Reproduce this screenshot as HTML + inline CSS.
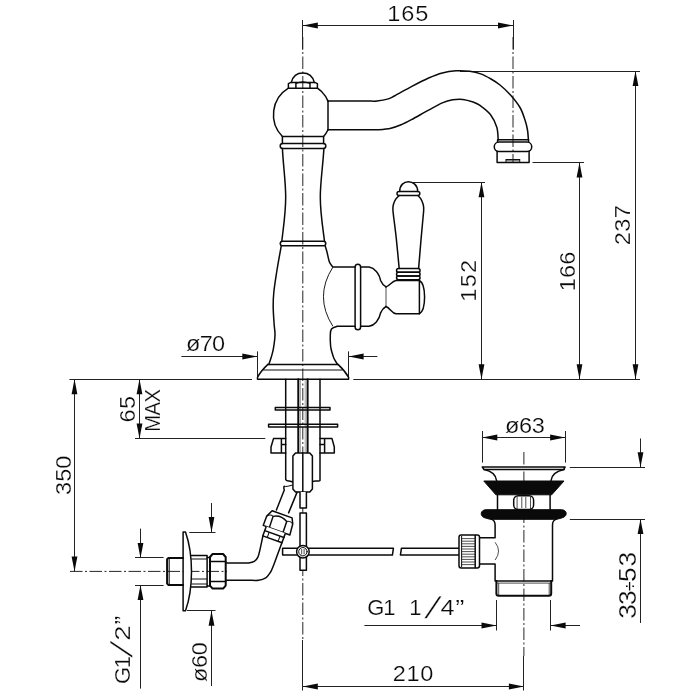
<!DOCTYPE html>
<html lang="en"><head><meta charset="utf-8"><title>Faucet technical drawing</title>
<style>
html,body{margin:0;padding:0;background:#fff;}
svg{display:block}
.k{fill:none;stroke:#0a0a0a;stroke-width:1.5;stroke-linecap:round;stroke-linejoin:round}
.kk{fill:none;stroke:#0a0a0a;stroke-width:2;stroke-linecap:round;stroke-linejoin:round}
.kw{fill:#fff;stroke:#0a0a0a;stroke-width:1.5;stroke-linejoin:round}
.n{fill:none;stroke:#222;stroke-width:0.8}
.n2{fill:none;stroke:#1a1a1a;stroke-width:1}
.k2{fill:none;stroke:#111;stroke-width:1.05}
.g{fill:none;stroke:#8a8a8a;stroke-width:0.8}
.t{fill:none;stroke:#222;stroke-width:1}
.c{fill:none;stroke:#1a1a1a;stroke-width:0.95;stroke-dasharray:12.5 2.5 2 2.5}
.a{fill:#0a0a0a;stroke:none}
.b{fill:#0a0a0a;stroke:#0a0a0a;stroke-width:1}
.tx text{font-family:"Liberation Sans",sans-serif;fill:#0a0a0a;stroke:#fff;stroke-width:0.22px}
</style></head>
<body>
<svg width="700" height="700" viewBox="0 0 700 700">
<rect x="0" y="0" width="700" height="700" fill="#fff"/>
<g class="tx" opacity="0.999">
<text transform="translate(389,21) scale(1.07,1)" x="-1.67 11.45 24.58" y="0" font-size="22">165</text>
<text transform="translate(630,244) rotate(-90) scale(1.07,1)" x="-1.1 11.5 24.1" y="0" font-size="22">237</text>
<text transform="translate(575.1,289.4) rotate(-90) scale(1.07,1)" x="-1.67 10.73 23.13" y="0" font-size="22">166</text>
<text transform="translate(476,300) rotate(-90) scale(1.07,1)" x="-1.67 11.82 25.32" y="0" font-size="22">152</text>
<text transform="translate(186.6,351.4) scale(1.07,1)" x="-0.46 12.27 23.86" y="0" font-size="22">ø70</text>
<text transform="translate(70.6,494) rotate(-90) scale(1.07,1)" x="-0.84 11.37 23.58" y="0" font-size="22">350</text>
<text transform="translate(135,421.4) rotate(-90) scale(1.07,1)" x="-1.12 11.5" y="0" font-size="22">65</text>
<text transform="translate(160,430) rotate(-90) scale(0.92,1)" x="-1.8 15.81 29.92" y="0" font-size="22">MAX</text>
<text transform="translate(130,683) rotate(-90) scale(1.0,1)" x="-1.1 14.85" y="0" font-size="22">G1</text>
<text transform="translate(121.5,649.3) rotate(-90) skewX(-22) translate(-4.17,10.72)" x="0" y="0" font-size="30">/</text>
<text transform="translate(130,639.4) rotate(-90) scale(1.25,1)" x="-1.1" y="0" font-size="22">2</text>
<text transform="translate(130,623.6) rotate(-90) scale(1.2,1)" x="-0.81" y="0" font-size="22">”</text>
<text transform="translate(207,681.4) rotate(-90) scale(1.07,1)" x="-0.46 12.61 24.51" y="0" font-size="22">ø60</text>
<text transform="translate(505.4,433) scale(1.07,1)" x="-0.46 12.67 24.62" y="0" font-size="22">ø63</text>
<text transform="translate(368.4,614.6) scale(1.0,1)" x="-1.1 14.95" y="0" font-size="22">G1</text>
<text transform="translate(411,614.6) scale(1.0,1)" x="-1.67" y="0" font-size="22">1</text>
<text transform="translate(433,607.5) skewX(-22) translate(-4.17,10.72)" x="0" y="0" font-size="30">/</text>
<text transform="translate(441,614.6) scale(1.15,1)" x="-0.51" y="0" font-size="22">4</text>
<text transform="translate(456.3,614.6) scale(1.25,1)" x="-0.81" y="0" font-size="22">”</text>
<text transform="translate(394,681) scale(1.07,1)" x="-1.1 11.75 24.61" y="0" font-size="22">210</text>
<text transform="translate(636.2,617.8) rotate(-90) scale(1.12,1)" x="-0.89 11.54" y="0" font-size="23.5">33</text>
<text transform="translate(636.4,590.4) rotate(-90) scale(1.0,1)" x="-0.56" y="0" font-size="17.5" style="stroke:none">÷</text>
<text transform="translate(636.2,580.9) rotate(-90) scale(1.12,1)" x="-0.94 12.97" y="0" font-size="23.5">53</text>
</g>
<line class="c" x1="302.8" y1="37" x2="302.8" y2="640"/>
<line class="c" x1="513" y1="37" x2="513" y2="162"/>
<line class="c" x1="70" y1="571.4" x2="227" y2="571.4"/>
<line class="c" x1="523.9" y1="452" x2="523.9" y2="656"/>
<line class="t" x1="302.8" y1="25.5" x2="513" y2="25.5"/>
<polygon class="a" points="302.8,25.5 317.8,22.6 317.8,28.4"/>
<polygon class="a" points="513,25.5 498,22.6 498,28.4"/>
<line class="t" x1="302.5" y1="20" x2="302.5" y2="49.5"/>
<line class="t" x1="513.5" y1="20" x2="513.5" y2="49.5"/>
<line class="t" x1="460" y1="71.5" x2="640" y2="71.5"/>
<line class="t" x1="635.5" y1="71" x2="635.5" y2="379.3"/>
<polygon class="a" points="635.5,71 632.6,86 638.4,86"/>
<polygon class="a" points="635.5,379.3 632.6,364.3 638.4,364.3"/>
<line class="t" x1="532.5" y1="162.5" x2="584" y2="162.5"/>
<line class="t" x1="579.5" y1="162.5" x2="579.5" y2="379.3"/>
<polygon class="a" points="579.5,162.5 576.6,177.5 582.4,177.5"/>
<polygon class="a" points="579.5,379.3 576.6,364.3 582.4,364.3"/>
<line class="t" x1="412.6" y1="182.5" x2="485" y2="182.5"/>
<line class="t" x1="481.5" y1="182.3" x2="481.5" y2="379.3"/>
<polygon class="a" points="481.5,182.3 478.6,197.3 484.4,197.3"/>
<polygon class="a" points="481.5,379.3 478.6,364.3 484.4,364.3"/>
<line class="t" x1="69.4" y1="379.5" x2="252" y2="379.5"/>
<line class="t" x1="353.3" y1="379.5" x2="640" y2="379.5"/>
<line class="t" x1="181.4" y1="356.5" x2="257.3" y2="356.5"/>
<polygon class="a" points="257.3,356.5 242.3,353.6 242.3,359.4"/>
<line class="t" x1="257.5" y1="351.4" x2="257.5" y2="377.4"/>
<line class="t" x1="348.6" y1="356.5" x2="377.4" y2="356.5"/>
<polygon class="a" points="348.6,356.5 363.6,353.6 363.6,359.4"/>
<line class="t" x1="348.5" y1="351.4" x2="348.5" y2="377.4"/>
<line class="t" x1="74.5" y1="379.3" x2="74.5" y2="571.4"/>
<polygon class="a" points="74.5,379.3 71.6,394.3 77.4,394.3"/>
<polygon class="a" points="74.5,571.4 71.6,556.4 77.4,556.4"/>
<line class="t" x1="139.5" y1="379.3" x2="139.5" y2="438.6"/>
<polygon class="a" points="139.5,379.3 136.6,394.3 142.4,394.3"/>
<polygon class="a" points="139.5,438.6 136.6,423.6 142.4,423.6"/>
<line class="t" x1="135" y1="438.5" x2="265.3" y2="438.5"/>
<line class="t" x1="135" y1="557.5" x2="163.6" y2="557.5"/>
<line class="t" x1="135" y1="585.5" x2="163.6" y2="585.5"/>
<line class="t" x1="140.5" y1="528.6" x2="140.5" y2="557.9"/>
<polygon class="a" points="140.5,557.9 137.6,542.9 143.4,542.9"/>
<line class="t" x1="140.5" y1="585" x2="140.5" y2="688.6"/>
<polygon class="a" points="140.5,585 137.6,600 143.4,600"/>
<line class="t" x1="189.3" y1="532.5" x2="215.5" y2="532.5"/>
<line class="t" x1="187" y1="610.5" x2="215.5" y2="610.5"/>
<line class="t" x1="211.5" y1="503" x2="211.5" y2="532.1"/>
<polygon class="a" points="211.5,532.1 208.6,517.1 214.4,517.1"/>
<line class="t" x1="211.5" y1="610.7" x2="211.5" y2="686"/>
<polygon class="a" points="211.5,610.7 208.6,625.7 214.4,625.7"/>
<line class="t" x1="482.5" y1="431" x2="482.5" y2="462.6"/>
<line class="t" x1="565.5" y1="431" x2="565.5" y2="462.6"/>
<line class="t" x1="482.3" y1="437.5" x2="565.1" y2="437.5"/>
<polygon class="a" points="482.3,437.5 497.3,434.6 497.3,440.4"/>
<polygon class="a" points="565.1,437.5 550.1,434.6 550.1,440.4"/>
<line class="t" x1="569.8" y1="467.5" x2="645" y2="467.5"/>
<line class="t" x1="569.8" y1="519.5" x2="645" y2="519.5"/>
<line class="t" x1="640.5" y1="438.5" x2="640.5" y2="467.3"/>
<polygon class="a" points="640.5,467.3 637.6,452.3 643.4,452.3"/>
<line class="t" x1="640.5" y1="519.1" x2="640.5" y2="623"/>
<polygon class="a" points="640.5,519.1 637.6,534.1 643.4,534.1"/>
<line class="t" x1="364.4" y1="625.5" x2="496.5" y2="625.5"/>
<polygon class="a" points="496.5,625.5 481.5,622.6 481.5,628.4"/>
<line class="t" x1="550.6" y1="625.5" x2="580" y2="625.5"/>
<polygon class="a" points="550.6,625.5 565.6,622.6 565.6,628.4"/>
<line class="t" x1="496.5" y1="600" x2="496.5" y2="630.5"/>
<line class="t" x1="550.5" y1="600" x2="550.5" y2="630.5"/>
<line class="t" x1="302.8" y1="686.5" x2="523.9" y2="686.5"/>
<polygon class="a" points="302.8,686.5 317.8,683.6 317.8,689.4"/>
<polygon class="a" points="523.9,686.5 508.9,683.6 508.9,689.4"/>
<line class="t" x1="302.5" y1="640" x2="302.5" y2="690.5"/>
<line class="t" x1="523.5" y1="656" x2="523.5" y2="690.5"/>
<path class="k" d="M291.3,82.4 C292.8,76.5 297,73 302.7,73 C308.4,73 312.8,76.5 314.3,82.4"/>
<path class="k2" d="M295.9,83.4 Q302.8,80.3 310,83.4"/>
<path class="k" d="M288.4,88.2 V83.6 L290.9,82.4 H314.8 L317.4,83.6 V88.2 Z"/>
<line class="k" x1="295.9" y1="82.5" x2="295.9" y2="88.2"/>
<line class="k" x1="310" y1="82.5" x2="310" y2="88.2"/>
<path class="k" d="M288.4,88.2 A31,31 0 0 0 282.4,136.5"/>
<path class="k" d="M317.4,88.2 A29.5,29.5 0 0 1 328,101.1"/>
<path class="k" d="M328,129.7 A29.5,29.5 0 0 1 323.6,136.5"/>
<line class="k" x1="328" y1="101.1" x2="328" y2="129.7"/>
<path class="k" d="M282.4,136.5 H323.6 M282.4,136.5 V143.4 M323.6,136.5 V143.4"/>
<path class="k" d="M282.7,143.4 H323.3 a2.5,2.5 0 0 1 0,5 H282.7 a2.5,2.5 0 0 1 0,-5 Z"/>
<path class="k" d="M282.4,148.4 C283.2,165 285.7,182 285.7,197 C285.7,214 283,230 281.8,241.3"/>
<path class="k" d="M323.9,148.4 C323,165 320.3,182 320.3,197 C320.3,214 323.2,230 324.5,241.3"/>
<path class="k" d="M282.5,241.2 H323.5 a2.25,2.25 0 0 1 0,4.5 H282.5 a2.25,2.25 0 0 1 0,-4.5 Z"/>
<path class="k" d="M281.3,245.7 C280.58,249.75 278.25,262.2 277,270 C275.75,277.8 274.43,286.25 273.8,292.5 C273.17,298.75 273.13,302.08 273.2,307.5 C273.27,312.92 273.9,320.42 274.2,325 C274.5,329.58 275.13,331.07 275,335 C274.87,338.93 274.02,344.93 273.4,348.6 C272.78,352.27 272.07,354.37 271.3,357 C270.53,359.63 269.22,363.17 268.8,364.4"/>
<path class="k" d="M325.1,245.7 C325.42,246.75 326.28,249.28 327,252 C327.72,254.72 328.42,259.48 329.4,262 C330.38,264.52 332.32,266.25 332.9,267.1 H355.1"/>
<path class="k" d="M355.1,326.3 H337.1  C336.17,326.75 332.63,327.55 331.5,329 C330.37,330.45 330.45,332.17 330.3,335 C330.15,337.83 330.32,343.08 330.6,346 C330.88,348.92 331.43,350.42 332,352.5 C332.57,354.58 333.08,356.52 334,358.5 C334.92,360.48 336.92,363.42 337.5,364.4"/>
<path class="n2" d="M332.9,267.1 Q314,296.7 332.9,326.3"/>
<path class="k" d="M355.1,267 a2.75,2.75 0 0 1 5.5,0 V327 a2.75,2.75 0 0 1 -5.5,0 Z"/>
<path class="k" d="M360.6,267.1 H369 C374.5,268 379.3,273.5 380.6,280.5 Q382.5,285 386,286.9"/>
<path class="k" d="M360.6,326.3 H369 C374.5,325.4 379.3,319.9 380.6,312.9 Q382.5,308.4 386,306.5"/>
<line class="n" x1="386" y1="286.9" x2="386" y2="306.5"/>
<path class="k" d="M386,286.9 C390,285.5 392,281 396,280.5 H419.4 C426.3,284 426.3,310 419.4,313.8 H396 C392,313.3 390,308 386,306.5"/>
<line class="k" x1="419.4" y1="280.5" x2="419.4" y2="313.8"/>
<path class="k" d="M398.4,268.6 H418.2 a1.85,1.85 0 0 1 0,3.7 H398.4 a1.85,1.85 0 0 1 0,-3.7 Z"/>
<path class="k" d="M398.4,272.3 H418.2 a1.85,1.85 0 0 1 0,3.7 H398.4 a1.85,1.85 0 0 1 0,-3.7 Z"/>
<path class="k" d="M398.4,276 H418.2 a1.85,1.85 0 0 1 0,3.7 H398.4 a1.85,1.85 0 0 1 0,-3.7 Z"/>
<path class="k" d="M399.2,268.6 C398.72,263.6 397.2,247.03 396.3,238.6 C395.4,230.17 394.37,222.85 393.8,218 C393.23,213.15 392.97,211.75 392.9,209.5 C392.83,207.25 392.95,206.2 393.4,204.5 C393.85,202.8 394.63,200.78 395.6,199.3 C396.57,197.82 398.6,196.22 399.2,195.6"/>
<path class="k" d="M418.6,268.6 C419.02,263.6 420.37,247.03 421.1,238.6 C421.83,230.17 422.57,222.85 423,218 C423.43,213.15 423.67,211.75 423.7,209.5 C423.73,207.25 423.65,206.23 423.2,204.5 C422.75,202.77 421.85,200.58 421,199.1 C420.15,197.62 418.58,196.18 418.1,195.6"/>
<path class="k" d="M399,191.4 H417.8 a2,2 0 0 1 0,4 H399 a2,2 0 0 1 0,-4 Z"/>
<path class="k" d="M399.7,191.4 C399.7,185 404,181.7 408.4,181.7 C412.8,181.7 417.7,185 417.7,191.4"/>
<path class="k" d="M267.9,364.4 H338"/>
<path class="k2" d="M263.2,370 H342.7"/>
<path class="k" d="M267.9,364.4 C263,369 259.5,373.5 257.5,377.4 V379.3 H348.6 V377.4 C346.5,373.5 343,369 338,364.4"/>
<path class="k" d="M328,101.1 C333.33,101.1 352.83,101.1 360,101.1 C367.17,101.1 368.15,101.12 371,101.1 C373.85,101.08 374.37,101.33 377.1,101 C379.83,100.67 384.53,99.93 387.4,99.1 C390.27,98.27 390.3,98.08 394.3,96 C398.3,93.92 405.68,89.6 411.4,86.6 C417.12,83.6 423.45,80.28 428.6,78 C433.75,75.72 437.73,74.1 442.3,72.9 C446.87,71.7 451.43,71.07 456,70.8 C460.57,70.53 465.58,70.78 469.7,71.3 C473.82,71.82 477.15,72.62 480.7,73.9 C484.25,75.18 487.78,77.15 491,79 C494.22,80.85 496.75,82.33 500,85 C503.25,87.67 507.17,91.25 510.5,95 C513.83,98.75 517.58,103.33 520,107.5 C522.42,111.67 523.75,116.25 525,120 C526.25,123.75 526.93,126.7 527.5,130 C528.07,133.3 528.25,138.17 528.4,139.8"/>
<path class="k" d="M328,129.7 C333.33,129.7 352.67,129.7 360,129.7 C367.33,129.7 368.85,129.7 372,129.7 C375.15,129.7 375.75,129.95 378.9,129.7 C382.05,129.45 387.2,129.02 390.9,128.2 C394.6,127.38 397.68,126.22 401.1,124.8 C404.52,123.38 406.82,122.15 411.4,119.7 C415.98,117.25 423.45,112.9 428.6,110.1 C433.75,107.3 438.3,104.62 442.3,102.9 C446.3,101.18 449.17,100.38 452.6,99.8 C456.03,99.22 459.48,99.03 462.9,99.4 C466.32,99.77 470.25,101 473.1,102 C475.95,103 477.12,103.32 480,105.4 C482.88,107.48 487.6,110.85 490.4,114.5 C493.2,118.15 495.5,123.08 496.8,127.3 C498.1,131.52 497.97,137.72 498.2,139.8"/>
<path class="k" d="M497.6,139.8 H528.6 M497.6,139.8 V142.1 M528.6,139.8 V142.1"/>
<path class="k" d="M499,142.1 H527 a4.75,4.75 0 0 1 0,9.5 H499 a4.75,4.75 0 0 1 0,-9.5 Z"/>
<path class="k" d="M497.1,151.6 V162.4 H529.1 V151.6"/>
<path class="k2" d="M506,162.4 V159.4 H519.7 V162.4"/>
<line class="n" x1="506" y1="160.8" x2="519.7" y2="160.8"/>
<path class="k" d="M285.7,379.3 V479.3 C286,481.5 290,480.5 292.7,482"/>
<path class="k" d="M320,379.3 V480.5 C319.5,482 315,480 312.9,481.5"/>
<path class="kk" d="M298.3,379.3 V452.9 M307.6,379.3 V452.9"/>
<path class="g" d="M300.4,380 V452 M305.2,380 V452"/>
<rect class="k" x="275.3" y="407.6" width="54.7" height="2.5"/>
<rect class="k" x="268.6" y="424.3" width="69" height="2.8"/>
<path class="k" d="M285.7,438.6 H273.5 L271,447 V452.9 H285.7 M281.4,438.6 V452.9 M281.4,444.6 H285.7"/>
<path class="k" d="M320,438.6 H332 L334.3,447 V452.9 H320 M324.6,438.6 V452.9 M324.6,444.6 H320"/>
<path class="kw" d="M292.9,456 L295.5,452.9 H309.8 L312.4,456 V489 L309.8,492 H295.5 L292.9,489 Z"/>
<line class="k" x1="302.8" y1="452.9" x2="302.8" y2="492"/>
<path class="kw" d="M300,492 V507.9 H306.4 V492"/>
<path class="kw" d="M300,570.3 V513 H306.4 V570.3 Z"/>
<path class="kw" d="M282.6,548.3 H393.4 L392.4,555.1 H282.6 Z"/>
<path class="k" d="M459,548.3 H401.4 L400.4,555.1 H459"/>
<circle class="kw" cx="302.9" cy="551.7" r="6.3"/>
<circle class="k" cx="302.9" cy="551.7" r="4.2" style="stroke-width:1"/>
<path class="n" d="M301.7,549 V554.4 M304.1,549 V554.4"/>
<path class="k" d="M285,486.4 Q283,486 284.3,490 L276.4,510"/>
<path class="k2" d="M285.7,486.4 C288,486.5 290,485.5 292.7,485"/>
<path class="k" d="M297.1,492.1 L288.6,512.9"/>
<g transform="translate(282.1,514.3) rotate(19.8)">
<path class="kw" d="M-10.6,0 L-13.85,6.9 L-14,16.85 H14.3 L13.3,5.5 L10.6,0 Z"/>
<path class="k" d="M-7.5,16.85 L-7.8,5 Q-1,0.8 6.8,5.2 L7,16.85"/>
<path class="k2" d="M-13.85,6.9 Q-11,3.5 -7.8,5 M6.8,5.2 Q10,3.2 13.3,5.5"/>
<path class="kw" d="M-10.8,16.85 V26.8 H9.5 V16.85"/>
<path class="k" d="M-10.8,21.2 H9.5"/>
<path class="k2" d="M-6.1,21.2 V26.8 M5.4,21.2 V26.8"/>
</g>
<path class="k" d="M262.9,535.9 C262.45,538.02 261.03,545.07 260.2,548.6 C259.37,552.13 258.88,554.97 257.9,557.1 C256.92,559.23 255.85,560.43 254.3,561.4 C252.75,562.37 250.98,562.65 248.6,562.9 C246.22,563.15 241.43,562.9 240,562.9 H225.7"/>
<path class="k" d="M281.8,542.9 C280.32,546.93 274.87,562.1 272.9,567.1 C270.93,572.1 271.2,571.1 270,572.9 C268.8,574.7 267.6,576.67 265.7,577.9 C263.8,579.13 261.22,579.9 258.6,580.3 C255.98,580.7 251.43,580.3 250,580.3 H225.7"/>
<path class="kk" d="M212.6,554 H223.1 L225.7,557 V585.6 L223.1,588.6 H212.6 L210,585.6 V557 Z"/>
<path class="k" d="M210,561.4 H225.7 M210,581.4 H225.7"/>
<path class="k" d="M207.1,557.4 H210 M207.1,586 H210"/>
<path class="k" d="M191.4,555.4 H207.1 V587.1 H191.4"/>
<path class="k2" d="M191.4,558.9 H207.1 M191.4,583.9 H207.1 M191.4,579 H207.1"/>
<path class="kw" d="M183.1,532.1 H185.5 C190,545 191.5,560 191.5,571.4 C191.5,583 190,598 185.5,610.7 H183.1 Z"/>
<path class="kk" d="M183.1,557.9 H168.5 L167.1,559.3 V583.6 L168.5,585 H183.1"/>
<line class="k2" x1="169.2" y1="558.5" x2="169.2" y2="584.4"/>
<path class="kw" d="M482.3,467 H565.1 L563.5,469.6 H484 Z"/>
<path class="k" d="M484.1,469.6 C491,471 496,475 496.7,481 M564.3,469.6 C557,471 551.5,475 550.9,481"/>
<polygon class="b" points="483.8,481 564,481 551.7,494.8 495.9,494.8"/>
<path class="k" d="M497.5,494.8 V510 M550.1,494.8 V510"/>
<rect class="kw" x="513.7" y="495.8" width="19.9" height="13.8" rx="4.5"/>
<path class="n" d="M517.1,496.5 V509 M530.5,496.5 V509 M521.8,497 V508 M525.8,497 V508"/>
<path class="b" d="M486,509.7 H561.5 C567.5,510 567.5,516 563,517.5 C560,518.5 558,519.1 556.4,519.3 H490.4 C489,519.1 487,518.5 484,517.5 C480,516 480,510 486,509.7 Z"/>
<path class="k" d="M491.2,519.1 C494,520 495.1,522 495.1,525 V537.8 H479.5 M479.5,563.9 H495.1 V580.9 H552.5 V525 C552.5,522 553.5,520 556.4,519.1"/>
<path class="n" d="M495.1,542.3 Q502,551 495.1,560"/>
<path class="kk" d="M496.4,580.9 V593.5 Q496.4,595.8 498.7,595.8 H549 Q551.2,595.8 551.2,593.5 V580.9"/>
<path class="n" d="M496.4,583.1 H551.2 M498.7,583.1 V595 M549.2,583.1 V595"/>
<rect class="kw" x="459" y="535.1" width="20.5" height="32.9" rx="2.2"/>
<line class="k" x1="475.2" y1="535.5" x2="475.2" y2="567.6"/>
<line class="k2" x1="461.6" y1="536" x2="461.6" y2="567"/>
<line class="n" x1="461.6" y1="538.6" x2="475.2" y2="538.6"/>
<line class="n" x1="461.6" y1="541.2" x2="475.2" y2="541.2"/>
<line class="n" x1="461.6" y1="543.8" x2="475.2" y2="543.8"/>
<line class="n" x1="461.6" y1="546.4" x2="475.2" y2="546.4"/>
<line class="n" x1="461.6" y1="549" x2="475.2" y2="549"/>
<line class="n" x1="461.6" y1="551.6" x2="475.2" y2="551.6"/>
<line class="n" x1="461.6" y1="554.2" x2="475.2" y2="554.2"/>
<line class="n" x1="461.6" y1="556.8" x2="475.2" y2="556.8"/>
<line class="n" x1="461.6" y1="559.4" x2="475.2" y2="559.4"/>
<line class="n" x1="461.6" y1="562" x2="475.2" y2="562"/>
<line class="n" x1="461.6" y1="564.6" x2="475.2" y2="564.6"/>
</svg>
</body></html>
